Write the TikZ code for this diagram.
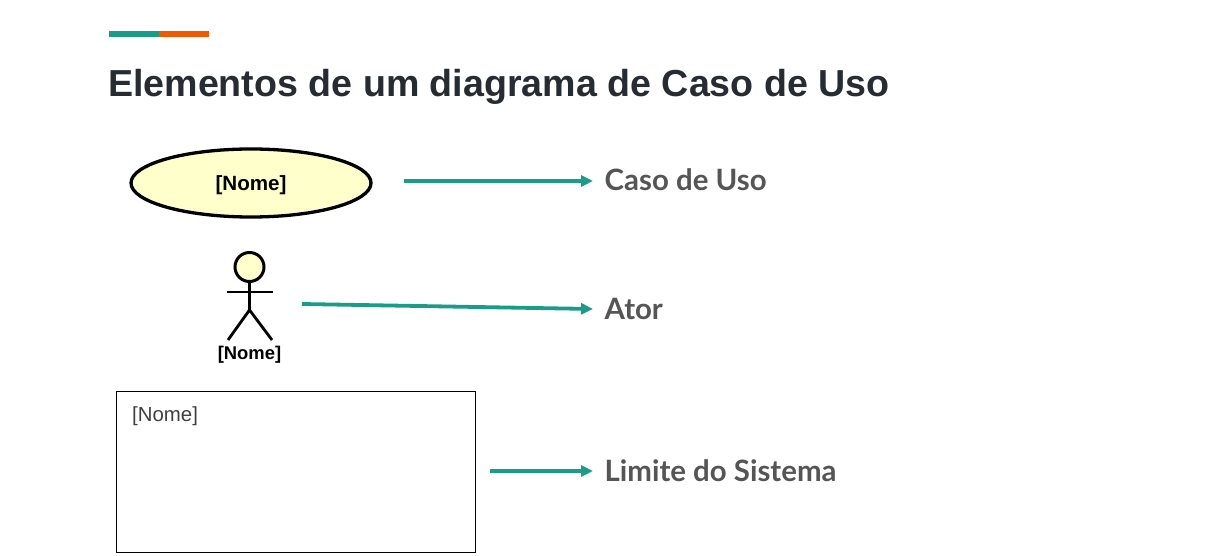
\documentclass[tikz,border=0pt]{standalone}
\usepackage{fontspec}
\setmainfont{Liberation Sans}
\newfontfamily\latofont{Lato}
\usetikzlibrary{shapes.geometric,arrows.meta}
\definecolor{teal1}{HTML}{1A9C88}
\definecolor{orange1}{HTML}{EF5A00}
\definecolor{titlecol}{HTML}{272C33}
\definecolor{labelcol}{HTML}{555555}
\definecolor{ufill}{HTML}{FFFFCB}
\tikzset{
  conn/.style={draw=teal1,line width=3.8pt,-{Triangle[length=12pt,width=11pt]}},
  lab/.style={anchor=base west,inner sep=0pt,text=labelcol,font=\latofont\bfseries\fontsize{29.4}{29.4}\selectfont},
  nome/.style={inner sep=0pt,font=\bfseries\fontsize{20.6}{20.6}\selectfont},
  stick/.style={draw=black,line width=2.8pt}
}
\begin{document}
\begin{tikzpicture}[x=1pt,y=-1pt]
\useasboundingbox (0,0) rectangle (1223,556);
\fill[white] (0,0) rectangle (1223,556);
\fill[teal1] (109,31) rectangle (159,37);
\fill[orange1] (159,31) rectangle (209,37);
\node[anchor=base west,inner sep=0pt,text=titlecol,font=\bfseries\fontsize{37.6}{37.6}\selectfont] (title) at (108,96.5) {Elementos de um diagrama de Caso de Uso};
\node[draw=black,line width=3.3pt,fill=ufill,ellipse,minimum width=240pt,minimum height=68pt,inner sep=0pt] (uc) at (251,183) {};
\node[nome] (ucname) at (251,185) {[Nome]};
\node[draw=black,line width=3pt,fill=ufill,circle,minimum size=29pt,inner sep=0pt] (head) at (249.5,267) {};
\coordinate (neck) at (249.5,282);
\coordinate (hip) at (249.5,310);
\coordinate (armL) at (227,292);
\coordinate (armR) at (273,292);
\coordinate (legL) at (228,340);
\coordinate (legR) at (272,340);
\draw[stick] (head.south) -- (hip);
\draw[stick] (armL) -- (armR);
\draw[stick] (legL) -- (hip) -- (legR);
\node[nome,font=\bfseries\fontsize{18.4}{18.4}\selectfont] (acname) at (249.5,355) {[Nome]};
\node[draw=black,line width=0.9pt,minimum width=359pt,minimum height=161pt,inner sep=0pt] (sys) at (295.5,471.5) {};
\node[anchor=base west,inner sep=0pt,text=black!75,font=\fontsize{20.4}{20.4}\selectfont] (sysname) at (132,421) {[Nome]};
\node[lab] (l1) at (604.5,190.5) {Caso de Uso};
\node[lab] (l2) at (604.5,319) {Ator};
\node[lab] (l3) at (604.5,481.5) {Limite do Sistema};
\coordinate (s1) at (404,181);
\coordinate (e1) at (593,181);
\coordinate (s2) at (302,304);
\coordinate (e2) at (593,309);
\coordinate (s3) at (490,471);
\coordinate (e3) at (593,471);
\draw[conn] (s1) -- (e1);
\draw[conn] (s2) -- (e2);
\draw[conn] (s3) -- (e3);
\end{tikzpicture}
\end{document}
